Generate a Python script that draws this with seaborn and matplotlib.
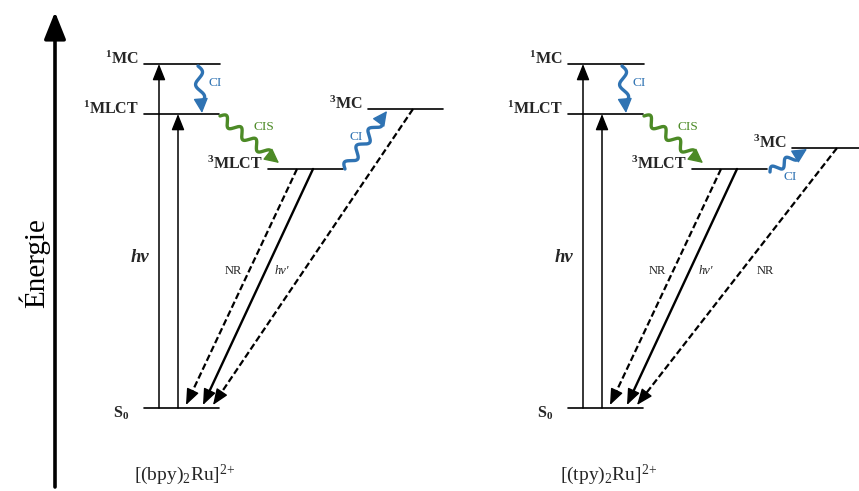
import numpy as np
import pandas as pd
import matplotlib.pyplot as plt
import seaborn as sns

# niveaux d'energie (unites arbitraires, S0 = 0)
complexes = ["[(bpy)$_2$Ru]$^{2{+}}$", "[(tpy)$_2$Ru]$^{2{+}}$"]
levels = ["S0", "1MLCT", "1MC", "3MLCT", "3MC"]
level_labels = ["S$_0$", "$^1$MLCT", "$^1$MC", "$^3$MLCT", "$^3$MC"]
energy_bpy = [0, 294, 344, 239, 299]
energy_tpy = [0, 294, 344, 239, 260]
energies = [energy_bpy, energy_tpy]

# libelles des transitions
abs_label = "hv"
em_label = "hv'"
nr_label = "NR"
ci_label = "CI"
cis_label = "CIS"
axis_label = "Énergie"

# mise en page (pixels, relatif au premier diagramme)
shifts = [0, 424]
level_x = {"S0": (144, 219), "1MLCT": (144, 219), "1MC": (144, 220),
           "3MLCT": (268, 343), "3MC": (368, 443)}
BLUE = "#2f73b3"
GREEN = "#4c8a26"

sns.set_theme(style="white")
plt.rcParams["font.family"] = ["Liberation Serif", "DejaVu Serif"]
plt.rcParams["mathtext.default"] = "regular"

fig = plt.figure(figsize=(8.59, 4.91), dpi=100)
ax = fig.add_axes([0, 0, 1, 1])
ax.set_xlim(0, 859)
ax.set_ylim(-83, 408)
ax.axis("off")


def head(p_from, p_to, color, ms=22, lw=1.0):
    ax.annotate("", xy=p_to, xytext=p_from,
                arrowprops=dict(arrowstyle="-|>,head_length=0.45,head_width=0.18",
                                color=color, lw=lw, mutation_scale=ms,
                                shrinkA=0, shrinkB=0))


def arrow(p0, p1, lw=1.0, ls="-", color="black"):
    p0 = np.asarray(p0, float)
    p1 = np.asarray(p1, float)
    u = (p1 - p0) / np.linalg.norm(p1 - p0)
    mid = p1 - u * 8
    if ls == "-":
        ax.plot([p0[0], mid[0]], [p0[1], mid[1]], color=color, lw=lw)
    else:
        ax.plot([p0[0], mid[0]], [p0[1], mid[1]], color=color, lw=lw,
                ls=(0, (3.0, 1.4)))
    head(p1 - u * 12, p1, color)


def wavy(p0, p1, color, n_waves, amp=4.5, hl=10):
    p0 = np.asarray(p0, float)
    p1 = np.asarray(p1, float)
    d = p1 - p0
    L = np.linalg.norm(d)
    u = d / L
    nrm = np.array([-u[1], u[0]])
    t = np.linspace(0, L - hl, 200)
    off = amp * np.sin(2 * np.pi * n_waves * t / (L - hl))
    pts = p0[None, :] + np.outer(t, u) + np.outer(off, nrm)
    ax.plot(pts[:, 0], pts[:, 1], color=color, lw=2.4, solid_capstyle="round")
    ax.plot([pts[-1, 0], p1[0] - u[0] * 5], [pts[-1, 1], p1[1] - u[1] * 5],
            color=color, lw=2.4)
    ax.annotate("", xy=p1, xytext=p1 - u * 11,
                arrowprops=dict(arrowstyle="-|>,head_length=0.5,head_width=0.25",
                                color=color, lw=1.0, mutation_scale=18,
                                shrinkA=0, shrinkB=0))


# axe des energies
ax.annotate("", xy=(55, 396), xytext=(55, -79),
            arrowprops=dict(arrowstyle="-|>,head_length=0.75,head_width=0.3",
                            color="black", lw=2.6, mutation_scale=22,
                            shrinkA=0, shrinkB=0))
ax.text(34, 145, axis_label, rotation=90, ha="center", va="center",
        fontsize=21, color="black")

for k, (name, E) in enumerate(zip(complexes, energies)):
    s = shifts[k]
    en = dict(zip(levels, E))

    # niveaux
    rows = []
    for lev in levels:
        x0, x1 = level_x[lev]
        rows.append({"x": x0 + s, "E": en[lev], "unit": lev})
        rows.append({"x": x1 + s, "E": en[lev], "unit": lev})
    df = pd.DataFrame(rows)
    sns.lineplot(data=df, x="x", y="E", units="unit", estimator=None,
                 color="black", lw=1.2, ax=ax, legend=False)

    for lev, lab in zip(levels, level_labels):
        x0 = level_x[lev][0] + s
        if lev == "S0":
            ax.text(x0 - 15, en[lev] - 5, lab, ha="right", va="center",
                    fontsize=11.5, fontweight="bold")
        else:
            ax.text(x0 - 5, en[lev] + 5, lab, ha="right", va="center",
                    fontsize=11.5, fontweight="bold")

    # absorption
    arrow((159 + s, en["S0"]), (159 + s, en["1MC"]), lw=1.1)
    arrow((178 + s, en["S0"]), (178 + s, en["1MLCT"]), lw=1.1)
    ax.text(140 + s, 151, abs_label, ha="center", va="center", fontsize=13.5,
            style="italic", fontweight="bold")

    # conversions internes / croisement intersysteme
    wavy((198 + s, en["1MC"] - 2), (202 + s, en["1MLCT"] + 1), BLUE, 1.5, amp=4)
    ax.text(215 + s, 325, ci_label, ha="center", va="center", fontsize=9.5,
            color=BLUE)
    wavy((220 + s, en["1MLCT"] - 2), (279 + s, en["3MLCT"] + 6), GREEN, 3.5)
    ax.text(264 + s, 281, cis_label, ha="center", va="center", fontsize=9.5,
            color=GREEN)
    if k == 0:
        wavy((345, en["3MLCT"]), (387, en["3MC"] - 2), BLUE, 3.0)
        ax.text(356, 271, ci_label, ha="center", va="center", fontsize=9.5,
                color=BLUE)
    else:
        wavy((346 + s, en["3MLCT"] - 3), (383 + s, en["3MC"] - 1), BLUE, 2.0,
             amp=4)
        ax.text(366 + s, 231, ci_label, ha="center", va="center", fontsize=9.5,
                color=BLUE)

    # desexcitations
    arrow((297 + s, en["3MLCT"]), (186 + s, en["S0"] + 3), lw=1.6, ls="--")
    arrow((313 + s, en["3MLCT"]), (203 + s, en["S0"] + 3), lw=1.7)
    arrow((413 + s, en["3MC"]), (213 + s, en["S0"] + 3), lw=1.6, ls="--")
    ax.text(233 + s, 137, nr_label, ha="center", va="center", fontsize=9)
    ax.text(282 + s, 137, em_label, ha="center", va="center", fontsize=9,
            style="italic")
    if k == 1:
        ax.text(341 + s, 137, nr_label, ha="center", va="center", fontsize=9)

    ax.text(185 + s, -67, name, ha="center", va="center", fontsize=14)

fig.savefig("out.png", dpi=100, facecolor="white")
